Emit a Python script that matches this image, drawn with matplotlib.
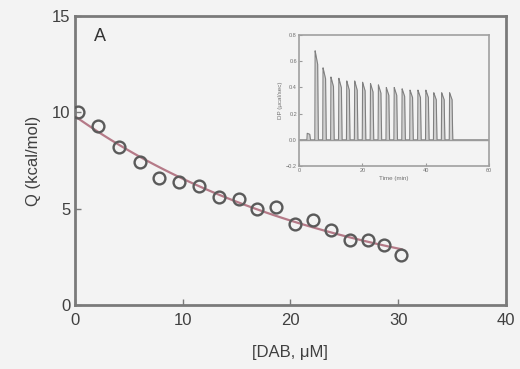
import matplotlib.pyplot as plt
import numpy as np

plt.rcParams['font.family'] = ['Liberation Sans', 'DejaVu Sans']

# main titration data
dab = np.array([0.3, 2.1, 4.1, 6.0, 7.8, 9.7, 11.5, 13.4, 15.2, 16.9,
                18.7, 20.4, 22.1, 23.8, 25.5, 27.2, 28.7, 30.3])
q = np.array([10.0, 9.3, 8.2, 7.4, 6.6, 6.4, 6.2, 5.6, 5.5, 5.0,
              5.1, 4.2, 4.4, 3.9, 3.4, 3.4, 3.1, 2.6])

# inset: injection times (min) and peak heights (ucal/sec)
inj_t = np.arange(2.5, 48.0, 2.5)
inj_h = np.array([0.05, 0.68, 0.55, 0.48, 0.47, 0.45, 0.45, 0.44, 0.43, 0.42,
                  0.40, 0.40, 0.39, 0.38, 0.38, 0.38, 0.36, 0.36, 0.36])

ax_col = '#7a7a7a'
txt_col = '#404040'

fig = plt.figure(figsize=(5.2, 3.69), dpi=100)
fig.patch.set_facecolor('#f3f3f3')
ax = fig.add_axes([0.144, 0.173, 0.829, 0.784])
ax.set_facecolor('#f3f3f3')

# exponential fit through the points
k, b = np.polyfit(dab, np.log(q), 1)
xf = np.linspace(0, dab[-1], 100)
ax.plot(xf, np.exp(b + k * xf), color='#b57a88', lw=1.6, zorder=2)
ax.plot(dab, q, 'o', mfc='none', mec='#5a5a5a', mew=1.7, ms=8.5, zorder=3)

ax.set_xlim(0, 40)
ax.set_ylim(0, 15)
ax.set_xticks([0, 10, 20, 30, 40])
ax.set_yticks([0, 5, 10, 15])
ax.tick_params(direction='in', length=4, width=1, colors=ax_col,
               labelcolor=txt_col, labelsize=12)
ax.tick_params(axis='x', pad=6)
ax.tick_params(axis='y', pad=3)
for s in ax.spines.values():
    s.set_color(ax_col)
    s.set_linewidth(2)
ax.set_xlabel('[DAB, \u03bcM]', fontsize=12, color=txt_col, labelpad=12)
ax.set_ylabel('Q (kcal/mol)', fontsize=12, color=txt_col, labelpad=8)
ax.text(0.045, 0.93, 'A', transform=ax.transAxes, fontsize=13,
        color='#333333', va='center')

# inset with raw thermogram
ins = fig.add_axes([0.575, 0.55, 0.365, 0.355])
ins.set_facecolor('#f3f3f3')
t = np.linspace(0, 60, 12000)
sig = np.zeros_like(t)
for ti, hi in zip(inj_t, inj_h):
    dt = t - ti
    rise = (dt >= 0) & (dt < 0.1)
    top = (dt >= 0.1) & (dt < 0.9)
    fall = (dt >= 0.9) & (dt < 1.1)
    sig[rise] += hi * dt[rise] / 0.1
    sig[top] += hi * (1 - 0.15 * (dt[top] - 0.1) / 0.8)
    sig[fall] += 0.85 * hi * (1.1 - dt[fall]) / 0.2
ins.fill_between(t, 0, sig, color='#d0d0d0', lw=0)
ins.plot(t, sig, color='#808080', lw=0.8)
ins.axhline(0, color='#9a9a9a', lw=1)
ins.set_xlim(0, 60)
ins.set_ylim(-0.2, 0.8)
ins.set_xticks([0, 20, 40, 60])
ins.set_yticks([-0.2, 0.0, 0.2, 0.4, 0.6, 0.8])
ins.tick_params(direction='in', length=2, width=0.8, colors='#9a9a9a',
                labelcolor='#707070', labelsize=4, pad=1.5)
for s in ins.spines.values():
    s.set_color('#a0a0a0')
    s.set_linewidth(1.2)
ins.set_xlabel('Time (min)', fontsize=4.5, color='#707070', labelpad=2)
ins.set_ylabel('DP (\u03bccal/sec)', fontsize=4.5, color='#707070', labelpad=2)

fig.savefig('out.png', dpi=100, facecolor=fig.get_facecolor())
